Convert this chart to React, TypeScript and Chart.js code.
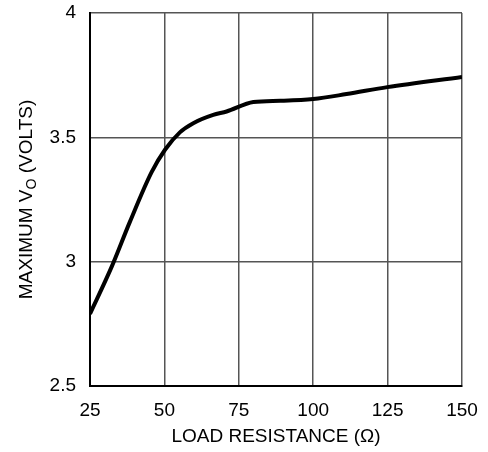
import React, { useEffect, useRef } from "react";
import { Chart, registerables } from "chart.js";

Chart.register(...registerables);

// Load resistance (Ω)
const loadResistance = [25, 32.3, 38.4, 45.7, 50.2, 55.2, 59.7, 66.4, 70.9, 79.9, 88.9, 100, 111.2, 124.9, 150];
// Maximum Vo (volts)
const maxVo = [2.79, 2.98, 3.16, 3.36, 3.45, 3.52, 3.557, 3.59, 3.604, 3.642, 3.647, 3.654, 3.674, 3.702, 3.743];

const xTicks = [25, 50, 75, 100, 125, 150];
const yTicks = [2.5, 3, 3.5, 4];
const xTitle = "LOAD RESISTANCE (Ω)";
const yTitleMain = "MAXIMUM V";
const yTitleSub = "O";
const yTitleTail = " (VOLTS)";

const FONT_FAMILY = "'Liberation Sans', Arial, sans-serif";

const titlesPlugin = {
  id: "titles",
  afterDraw(chart: any) {
    const { ctx, chartArea } = chart;
    ctx.save();
    ctx.fillStyle = "#000";
    ctx.font = `19px ${FONT_FAMILY}`;
    ctx.textAlign = "center";
    ctx.textBaseline = "middle";
    ctx.fillText(xTitle, (chartArea.left + chartArea.right) / 2, 437);

    // y title with subscript
    const cy = (chartArea.top + chartArea.bottom) / 2;
    ctx.translate(25, cy);
    ctx.rotate(-Math.PI / 2);
    const mainFont = `19px ${FONT_FAMILY}`;
    const subFont = `14px ${FONT_FAMILY}`;
    ctx.font = mainFont;
    const w1 = ctx.measureText(yTitleMain).width;
    const w3 = ctx.measureText(yTitleTail).width;
    ctx.font = subFont;
    const w2 = ctx.measureText(yTitleSub).width;
    const total = w1 + w2 + w3;
    let x = -total / 2;
    ctx.textAlign = "left";
    ctx.textBaseline = "alphabetic";
    const base = 7;
    ctx.font = mainFont;
    ctx.fillText(yTitleMain, x, base);
    x += w1;
    ctx.font = subFont;
    ctx.fillText(yTitleSub, x, base + 4);
    x += w2;
    ctx.font = mainFont;
    ctx.fillText(yTitleTail, x, base);
    ctx.restore();
  },
};

export default function App() {
  const ref = useRef<HTMLCanvasElement | null>(null);

  useEffect(() => {
    if (!ref.current) return;
    const chart = new Chart(ref.current, {
      type: "line",
      data: {
        datasets: [
          {
            data: loadResistance.map((x, i) => ({ x, y: maxVo[i] })),
            borderColor: "#000",
            borderWidth: 4,
            pointRadius: 0,
            cubicInterpolationMode: "monotone",
            fill: false,
          },
        ],
      },
      options: {
        animation: false,
        responsive: false,
        devicePixelRatio: 1,
        layout: { padding: { top: 13, right: 26, left: 0, bottom: 0 } },
        plugins: { legend: { display: false }, tooltip: { enabled: false } },
        scales: {
          x: {
            type: "linear",
            min: xTicks[0],
            max: xTicks[xTicks.length - 1],
            afterBuildTicks: (s: any) => {
              s.ticks = xTicks.map((v) => ({ value: v }));
            },
            afterFit: (s: any) => {
              s.height = 66;
              s.paddingLeft = 0;
              s.paddingRight = 0;
            },
            ticks: {
              color: "#000",
              font: { family: FONT_FAMILY, size: 19 },
              padding: 13,
              maxRotation: 0,
              callback: (v: any) => String(v),
            },
            grid: { color: "#555", lineWidth: 1.5, drawTicks: false },
            border: { color: "#000", width: 2 },
          },
          y: {
            type: "linear",
            min: yTicks[0],
            max: yTicks[yTicks.length - 1],
            afterBuildTicks: (s: any) => {
              s.ticks = yTicks.map((v) => ({ value: v }));
            },
            afterFit: (s: any) => {
              s.width = 90;
              s.paddingTop = 0;
              s.paddingBottom = 0;
            },
            ticks: {
              color: "#000",
              font: { family: FONT_FAMILY, size: 19 },
              padding: 14,
              callback: (v: any) => String(v),
            },
            grid: { color: "#555", lineWidth: 1.5, drawTicks: false },
            border: { color: "#000", width: 2 },
          },
        },
      },
      plugins: [titlesPlugin],
    } as any);
    return () => chart.destroy();
  }, []);

  return (
    <div style={{ position: "fixed", left: 0, top: 0, width: 488, height: 452, background: "#fff" }}>
      <canvas ref={ref} width={488} height={452} style={{ display: "block" }} />
    </div>
  );
}
